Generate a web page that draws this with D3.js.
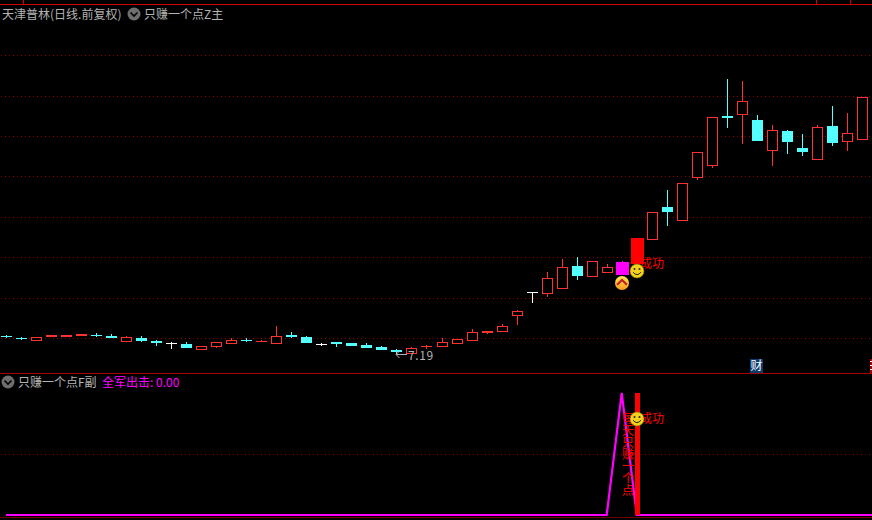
<!DOCTYPE html>
<html><head><meta charset="utf-8">
<script src="https://cdn.jsdelivr.net/npm/d3@7/dist/d3.min.js"></script>
<style>
html,body{margin:0;padding:0;background:#000;overflow:hidden}
svg{display:block}
text{font-family:"Noto Sans CJK SC","Noto Sans",sans-serif}
</style></head><body>
<svg id="c" width="872" height="520"></svg>
<script>
const opens =[8.08,8.02,7.92,8.06,8.06,8.11,8.16,8.11,7.87,8.00,7.85,7.77,7.72,7.47,7.59,7.77,7.90,7.82,7.77,8.15,8.05,7.70,7.80,7.75,7.65,7.55,7.41,7.26,7.57,7.60,7.77,7.92,8.26,8.36,9.15,10.26,10.24,10.49,11.56,11.08,11.28,11.12,11.66,12.92,14.49,13.86,15.99,16.58,18.99,19.07,18.79,17.29,18.25,17.41,16.88,18.50,17.74,17.84];
const closes=[8.03,7.98,8.03,8.15,8.15,8.20,8.11,8.01,8.03,7.85,7.77,7.77,7.52,7.59,7.79,7.90,7.85,7.85,8.10,8.05,7.75,7.70,7.70,7.60,7.50,7.41,7.31,7.50,7.60,7.80,7.95,8.28,8.33,8.58,9.32,10.26,10.96,11.50,11.07,11.80,11.51,11.76,12.95,14.22,14.24,15.66,17.19,18.93,18.89,19.72,17.77,18.28,17.72,17.22,18.43,17.67,18.13,19.92];
const highs =[8.15,8.07,8.03,8.15,8.15,8.22,8.25,8.20,8.11,8.10,7.90,7.78,7.80,7.59,7.79,8.00,8.00,7.92,8.59,8.30,8.10,7.77,7.80,7.75,7.75,7.60,7.46,7.55,7.65,8.00,7.95,8.45,8.33,8.69,9.39,10.26,11.27,11.91,12.01,11.80,11.66,11.81,12.95,14.22,15.33,15.66,17.19,18.93,20.82,20.72,19.04,18.54,18.30,18.10,18.54,19.49,19.14,19.92];
const lows  =[7.99,7.90,7.92,8.06,8.06,8.11,8.06,8.01,7.87,7.82,7.62,7.46,7.52,7.47,7.52,7.77,7.80,7.82,7.77,8.00,7.75,7.60,7.55,7.60,7.50,7.41,7.19,7.21,7.46,7.55,7.77,7.92,8.21,8.36,8.64,9.75,10.04,10.49,10.87,11.08,11.22,11.12,11.66,12.85,13.56,13.86,15.84,16.43,18.41,17.62,17.77,16.53,17.12,17.02,16.88,17.52,17.27,17.84];
const signalValues=[0,0,0,0,0,0,0,0,0,0, 0,0,0,0,0,0,0,0,0,0, 0,0,0,0,0,0,0,0,0,0, 0,0,0,0,0,0,0,0,0,0, 0,100,0,0,0,0,0,0,0,0, 0,0,0,0,0,0,0,0];
const priceGrid=[8,10,12,14,16,18,20,22];
const signalGrid=[50];
const barIndex=42, markIndex=41, lowIndex=26;
const stackedText="每天只赚一个点";

const svg=d3.select("#c");
const x=d3.scaleLinear().domain([0,57]).range([6,862]);
const y=d3.scaleLinear().domain([8,22]).range([338,55.2]);
const ys=d3.scaleLinear().domain([0,100]).range([515,393]);
const px=v=>Math.round(v);
const UP="#ff3232",DN="#54ffff",TXT="#b4b4b4",MAG="#ff00ff",RED="#ff0000",DIV="#a80000";

const defs=svg.append("defs");
const g1=defs.append("linearGradient").attr("id","gold").attr("x1",0).attr("y1",0).attr("x2",0).attr("y2",1);
g1.append("stop").attr("offset","0").attr("stop-color","#ffe85a");
g1.append("stop").attr("offset","1").attr("stop-color","#ff9a1e");

// frame
svg.append("rect").attr("width",872).attr("height",520).attr("fill","#000");
const frame=svg.append("g").attr("shape-rendering","crispEdges");
frame.append("line").attr("x1",0).attr("x2",872).attr("y1",4.5).attr("y2",4.5).attr("stroke","#d00000");
[23,816,850].forEach(t=>frame.append("line").attr("x1",t+.5).attr("x2",t+.5).attr("y1",0).attr("y2",4).attr("stroke","#d00000"));
frame.append("line").attr("x1",0).attr("x2",872).attr("y1",373.5).attr("y2",373.5).attr("stroke",DIV);
frame.append("line").attr("x1",0).attr("x2",872).attr("y1",517.5).attr("y2",517.5).attr("stroke","#700000");

// gridlines
const dots="1 3";
svg.append("g").selectAll("line").data(priceGrid).join("line")
  .attr("x1",1).attr("x2",872).attr("y1",d=>px(y(d))+.5).attr("y2",d=>px(y(d))+.5)
  .attr("stroke","#8c0000").attr("stroke-dasharray",dots);
svg.append("g").selectAll("line").data(signalGrid).join("line")
  .attr("x1",1).attr("x2",872).attr("y1",d=>px(ys(d))+.5).attr("y2",d=>px(ys(d))+.5)
  .attr("stroke","#8c0000").attr("stroke-dasharray",dots);

// candles
const idx=d3.range(opens.length);
const colorOf=i=>closes[i]>opens[i]?UP:closes[i]<opens[i]?DN:"#ffffff";
const candles=svg.append("g").attr("shape-rendering","crispEdges");
candles.selectAll(".w").data(idx.filter(i=>i!==barIndex)).join("line").attr("class","w")
  .attr("x1",i=>px(x(i))+.5).attr("x2",i=>px(x(i))+.5)
  .attr("y1",i=>px(y(highs[i]))).attr("y2",i=>px(y(lows[i])))
  .attr("stroke",i=>i===markIndex?MAG:colorOf(i));
candles.selectAll(".b").data(idx.filter(i=>i!==barIndex&&i!==markIndex)).join("rect").attr("class","b")
  .each(function(i){
    const top=px(y(Math.max(opens[i],closes[i]))), bot=px(y(Math.min(opens[i],closes[i])));
    const xx=px(x(i));
    const s=d3.select(this);
    if(closes[i]>opens[i]){
      if(bot-top<=2){
        s.attr("x",xx-5).attr("width",11).attr("y",top).attr("height",Math.max(bot-top,1)).attr("fill",UP);
      } else {
        s.attr("x",xx-4.5).attr("width",10).attr("y",top+.5).attr("height",bot-top)
         .attr("fill","#000").attr("stroke",UP);
      }
    } else if(closes[i]<opens[i]){
      s.attr("x",xx-5).attr("width",11).attr("y",top).attr("height",Math.max(bot-top,1)).attr("fill",DN);
    } else {
      s.attr("x",xx-5).attr("width",11).attr("y",top).attr("height",1).attr("fill","#ffffff");
    }
  });
// highlighted candles
const bw=13;
candles.append("rect").attr("x",px(x(markIndex))-6).attr("width",bw)
  .attr("y",px(y(closes[markIndex]))).attr("height",px(y(opens[markIndex]))-px(y(closes[markIndex]))).attr("fill",MAG);
candles.append("rect").attr("x",px(x(barIndex))-6).attr("width",bw)
  .attr("y",px(y(closes[barIndex]))).attr("height",px(y(opens[barIndex]))-px(y(closes[barIndex]))).attr("fill",RED);

// lower line and bar (the flat line runs on to the right edge)
const signalPoints=signalValues.map((v,i)=>[x(i),ys(v)]).concat([[x.range()[1]+10,ys(0)]]);
svg.append("path").datum(signalPoints).attr("fill","none").attr("stroke",MAG).attr("stroke-width",2.2)
  .attr("d",d3.line());
svg.append("text").attr("writing-mode","vertical-rl").attr("x",628).attr("y",412)
  .attr("fill",RED).attr("font-size",12).text(stackedText);
svg.append("rect").attr("shape-rendering","crispEdges").attr("x",px(x(barIndex))-2).attr("width",5)
  .attr("y",px(ys(100))).attr("height",px(ys(0))-px(ys(100))).attr("fill",RED);

// 成功 labels and smileys
function success(cy,textY){
  svg.append("text").attr("x",640).attr("y",textY+4.5).attr("fill",RED).attr("font-size",12).text("成功");
  const g=svg.append("g").attr("transform",`translate(${px(x(barIndex))},${cy})`);
  g.append("circle").attr("r",7).attr("fill","#f2d21c").attr("stroke","#8a7400").attr("stroke-width",.6);
  g.append("circle").attr("cx",-2.5).attr("cy",-2).attr("r",1).attr("fill","#332600");
  g.append("circle").attr("cx",2.5).attr("cy",-2).attr("r",1).attr("fill","#332600");
  g.append("path").attr("d","M-4,1.2Q0,6 4,1.2").attr("fill","none").attr("stroke","#332600").attr("stroke-width",1);
}
success(px(y(opens[barIndex]))+7,263);
success(px(ys(79)),418);

// chevron badge
const cb=svg.append("g").attr("transform",`translate(${px(x(markIndex))},${px(y(opens[markIndex]))+8})`);
cb.append("circle").attr("r",7).attr("fill","url(#gold)");
cb.append("path").attr("d","M-5,1.8L0,-3L5,1.8").attr("fill","none").attr("stroke","#c8201e").attr("stroke-width",2.2);

// low marker
const lx=px(x(lowIndex)), ly=px(y(lows[lowIndex]));
svg.append("path").attr("d",`M${lx+11},${ly+.5}H${lx}M${lx+3.5},${ly-3}L${lx},${ly+.5}L${lx+3.5},${ly+4}`)
  .attr("fill","none").attr("stroke",TXT).attr("stroke-width",1);
svg.append("text").attr("x",lx+12).attr("y",ly+5.5).attr("fill",TXT).attr("font-size",12)
  .attr("letter-spacing",.6).text(lows[lowIndex].toFixed(2));

// titles
function chevronIcon(cx,cy){
  svg.append("circle").attr("cx",cx).attr("cy",cy).attr("r",6.5).attr("fill","#6e6e6e");
  svg.append("path").attr("d",`M${cx-3.5},${cy-1.5}L${cx},${cy+2}L${cx+3.5},${cy-1.5}`).attr("fill","none").attr("stroke","#000").attr("stroke-width",1.6);
}
const label=(t,xx,yy,c)=>svg.append("text").attr("x",xx).attr("y",yy).attr("fill",c).attr("font-size",12).text(t);
label("天津普林(日线.前复权)",2,19,TXT);
chevronIcon(134,14);
label("只赚一个点Z主",144,19,TXT);
chevronIcon(8,382);
label("只赚一个点F副",18,387,TXT);
label("全军出击: 0.00",102,387,MAG);

// badges
svg.append("rect").attr("x",750).attr("y",359).attr("width",13).attr("height",14).attr("fill","#0a3c6e");
svg.append("text").attr("x",756.5).attr("y",370).attr("text-anchor","middle").attr("fill","#fff").attr("font-size",12).text("财");
svg.append("rect").attr("x",870).attr("y",359).attr("width",2).attr("height",14).attr("fill","#a00000");
const edge=svg.append("g").attr("shape-rendering","crispEdges").attr("stroke","#fff");
[361,365,369].forEach(t=>edge.append("line").attr("x1",870).attr("x2",872).attr("y1",t+.5).attr("y2",t+.5));
</script></body></html>
